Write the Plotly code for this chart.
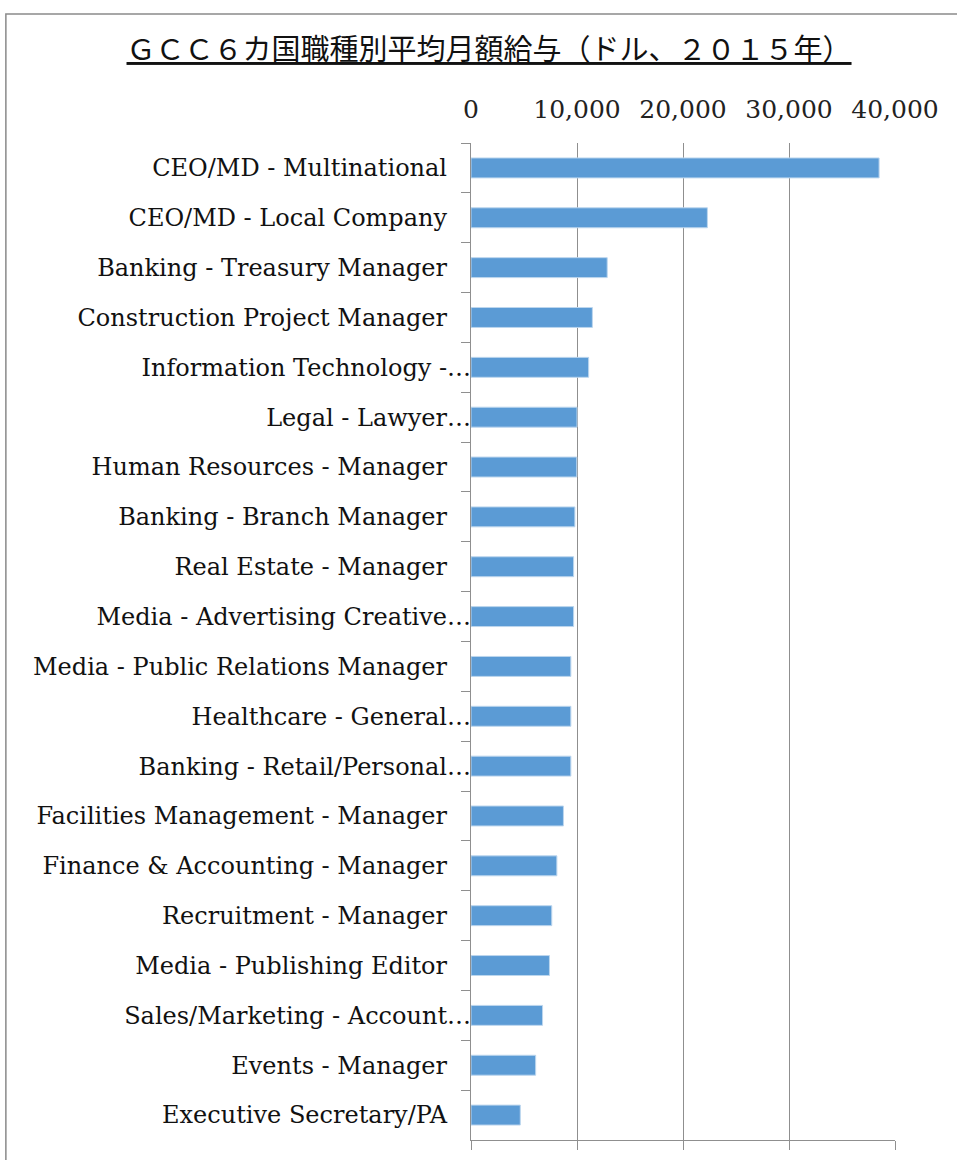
import plotly.graph_objects as go

# job titles, top to bottom as in the chart
jobs = [
    "CEO/MD - Multinational",
    "CEO/MD - Local Company",
    "Banking - Treasury Manager",
    "Construction Project Manager",
    "Information Technology -…",
    "Legal - Lawyer…",
    "Human Resources - Manager",
    "Banking - Branch Manager",
    "Real Estate - Manager",
    "Media - Advertising Creative…",
    "Media - Public Relations Manager",
    "Healthcare - General…",
    "Banking - Retail/Personal…",
    "Facilities Management - Manager",
    "Finance & Accounting - Manager",
    "Recruitment - Manager",
    "Media - Publishing Editor",
    "Sales/Marketing - Account…",
    "Events - Manager",
    "Executive Secretary/PA",
]
# average monthly salary, USD (2015)
salary = [38500, 22300, 12850, 11450, 11100, 10000, 9980, 9800, 9680, 9680,
          9420, 9420, 9420, 8720, 8100, 7620, 7400, 6750, 6100, 4650]

x_ticks = [0, 10000, 20000, 30000, 40000]

title_text = "ＧＣＣ６カ国職種別平均月額給与（ドル、２０１５年）"

# labels that were not cut off keep a trailing space like the original
shown = [j if j.endswith("…") else j + "\u3000" for j in jobs]

GRID = "#8f8f8f"
serif = "DejaVu Serif, Noto Sans CJK JP, serif"

fig = go.Figure()
fig.add_trace(go.Bar(
    x=salary, y=shown, orientation="h",
    marker=dict(color="#5b9bd5", line=dict(color="#bcd6ee", width=1)),
    hoverinfo="x+y",
))

fig.update_layout(
    width=957, height=1160,
    margin=dict(l=471, r=62, t=143, b=20),
    paper_bgcolor="white", plot_bgcolor="white",
    showlegend=False,
    bargap=0.6,
    font=dict(family=serif, color="#111111"),
    title=dict(text="<u>" + title_text + "</u>", x=0.511, xanchor="center",
               y=0.957, yanchor="middle",
               font=dict(family="Noto Sans CJK JP", size=29, color="#111111")),
    xaxis=dict(side="top", range=[0, 40000], tickvals=x_ticks, tickformat=",",
               showgrid=True, gridcolor=GRID, gridwidth=1.3,
               showline=False, zeroline=False, ticks="",
               ticklabelstandoff=19,
               tickfont=dict(family=serif, size=25, color="#222222")),
    xaxis2=dict(overlaying="x", side="bottom", anchor="y", range=[0, 40000],
                tickvals=x_ticks, showticklabels=False, showgrid=False,
                zeroline=False, showline=True, linecolor=GRID, linewidth=1.3,
                ticks="outside", ticklen=9, tickcolor=GRID, tickwidth=1.3),
    yaxis=dict(range=[len(jobs) - 0.5, -0.5], showline=True, linecolor=GRID,
               linewidth=1.3, ticks="outside", tickson="boundaries",
               ticklen=9, tickcolor=GRID, tickwidth=1.3, showgrid=False,
               ticklabelstandoff=-6,
               tickfont=dict(family=serif, size=24, color="#111111")),
)

# invisible trace so the bottom axis line is drawn
fig.add_trace(go.Scatter(x=[0], y=[shown[0]], xaxis="x2", mode="markers",
                         marker=dict(opacity=0), hoverinfo="skip"))

# outer chart frame (cut by the window on the right and bottom)
fig.add_shape(type="rect", xref="paper", yref="paper",
              x0=-1.097, x1=1.3, y0=-0.1, y1=1.1294,
              line=dict(color="#8a8a8a", width=1.5), layer="below")

# drop the default page margin so the figure sits at the window's corner
fig.write_html("out.html", config={"displayModeBar": False},
               post_script="document.body.style.margin='0';")
